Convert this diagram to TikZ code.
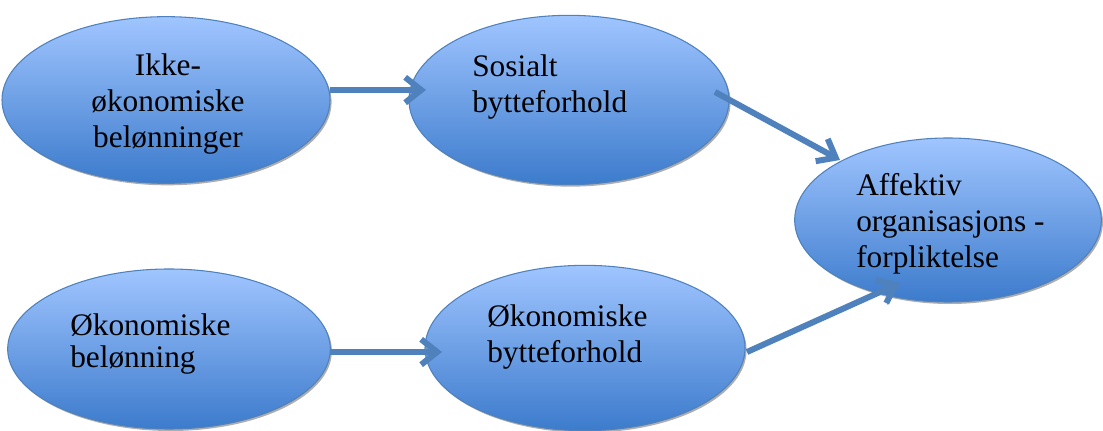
\documentclass[tikz,border=0pt]{standalone}
\usepackage{fontspec}
\setmainfont{Liberation Serif}
\usetikzlibrary{shapes.geometric,shadows,arrows.meta}
\definecolor{kant}{RGB}{79,129,189}
\definecolor{lys}{RGB}{160,197,255}
\definecolor{mork}{RGB}{60,123,204}
\tikzset{
	boble/.style={ellipse, draw=kant, line width=0.8pt, inner sep=0pt, top color=lys, bottom color=mork,
		drop shadow={shadow xshift=1.2pt, shadow yshift=-1.5pt, fill=black!45, opacity=0.7}},
	tekst/.style={anchor=base west, align=left, inner sep=0pt, font=\fontsize{23.5}{27}\selectfont},
	pil/.style={draw=kant, line width=4.5pt, -{Straight Barb[length=12pt, width=19pt]},
		preaction={draw=black!30, transform canvas={xshift=0.9pt, yshift=-1.3pt}}}
}
\begin{document}
\begin{tikzpicture}[x=0.75pt, y=0.75pt]
				\useasboundingbox (0,0) rectangle (1103,431);
				\node[boble, minimum width=246pt, minimum height=125pt] (ikke) at (166,331) {};
				\node[boble, minimum width=240pt, minimum height=127pt] (sosialt) at (569,331) {};
				\node[boble, minimum width=230pt, minimum height=123pt] (affektiv) at (948,211) {};
				\node[boble, minimum width=242pt, minimum height=120pt] (oko) at (169,82) {};
				\node[boble, minimum width=240pt, minimum height=124pt] (okbytte) at (585,83) {};
				\node[tekst, anchor=base, align=center] (t1) at (168,283) {Ikke-\\økonomiske\\belønninger};
				\node[tekst] (t2) at (472,318) {Sosialt\\bytteforhold};
				\node[tekst] (t3) at (856,163) {Affektiv\\organisasjons -\\forpliktelse};
				\node[tekst, font=\fontsize{23.5}{24}\selectfont] (t4) at (70,63) {Økonomiske\\belønning};
				\node[tekst] (t5) at (487,68) {Økonomiske\\bytteforhold};
				\draw[pil] ([shift={(164,10)}]ikke.center) -- ([shift={(-143,10)}]sosialt.center);
				\draw[pil] ([shift={(146,8)}]sosialt.center) -- ([shift={(-108,60)}]affektiv.center);
				\draw[pil] ([shift={(161,-3)}]oko.center) -- ([shift={(-143,-4)}]okbytte.center);
				\draw[pil] ([shift={(162,-4)}]okbytte.center) -- ([shift={(-48,-63)}]affektiv.center);
			\end{tikzpicture}
\end{document}
